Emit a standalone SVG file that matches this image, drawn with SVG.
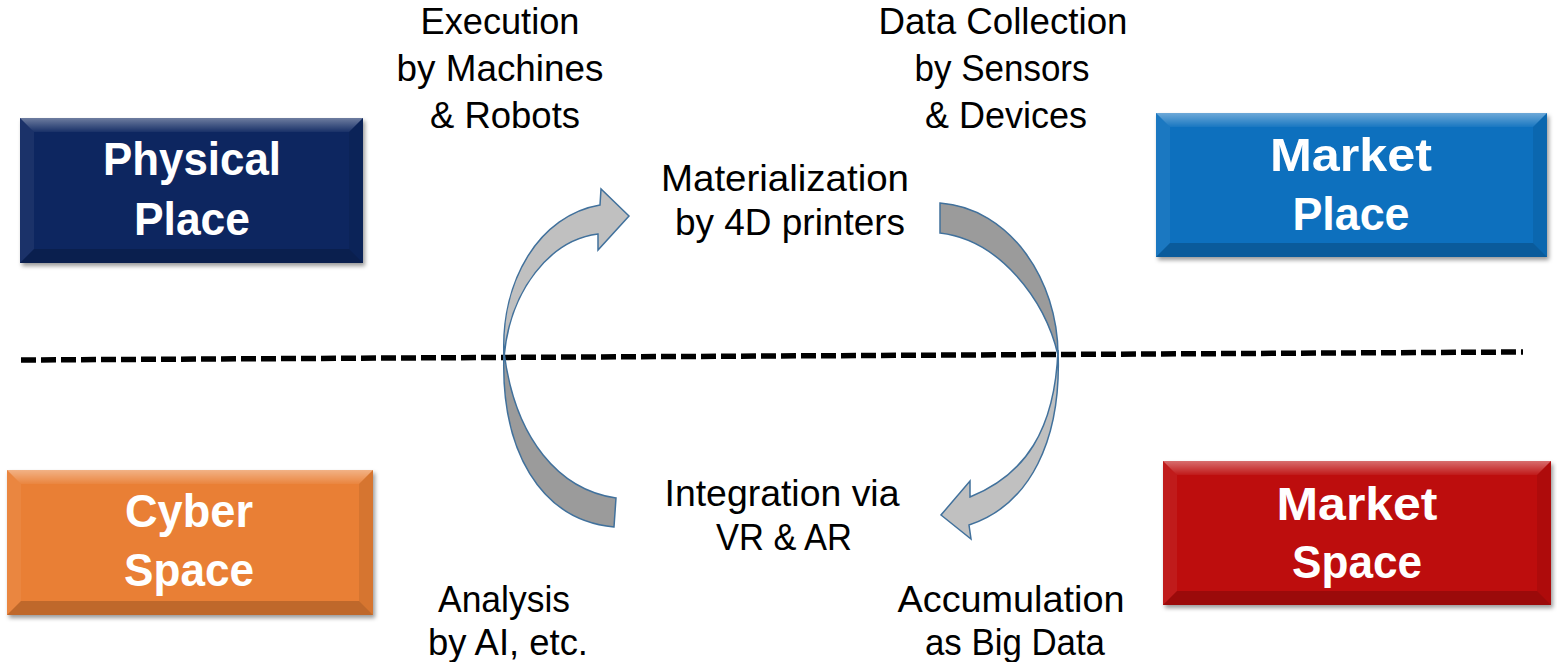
<svg xmlns="http://www.w3.org/2000/svg" width="1557" height="662" viewBox="0 0 1557 662">
<defs>
<filter id="sh" x="-10%" y="-10%" width="120%" height="130%">
<feDropShadow dx="2" dy="3" stdDeviation="2" flood-color="#000" flood-opacity="0.4"/>
</filter>
<linearGradient id="gTop" x1="0" y1="0" x2="0" y2="1">
<stop offset="0" stop-color="#fff" stop-opacity="0.4"/>
<stop offset="1" stop-color="#fff" stop-opacity="0.05"/>
</linearGradient>
</defs>
<style>
.lbl{font-family:"Liberation Sans",Arial,sans-serif;font-size:37px;fill:#000;text-anchor:middle}
.box{font-family:"Liberation Sans",Arial,sans-serif;font-size:46px;font-weight:bold;fill:#fff;text-anchor:middle}
.bt{fill:url(#gTop)}
.bl{fill:#fff;fill-opacity:0.06}
.br{fill:#000;fill-opacity:0.08}
.bb{fill:#000;fill-opacity:0.18}
.arr{stroke:#41719c;stroke-width:1.5;stroke-linejoin:miter}
.light{fill:#c0c0c0}
.dark{fill:#9b9b9b}
</style>
<rect width="1557" height="662" fill="#fff"/>

<g id="physical-place">
<rect x="20" y="118" width="343" height="145" fill="#0b2561" filter="url(#sh)"/>
<polygon class="bt" points="20,118 363,118 349,132 34,132"/>
<polygon class="bl" points="20,118 34,132 34,249 20,263"/>
<polygon class="br" points="363,118 363,263 349,249 349,132"/>
<polygon class="bb" points="20,263 34,249 349,249 363,263"/>
<text class="box" x="192" y="175" textLength="178" lengthAdjust="spacingAndGlyphs">Physical</text>
<text class="box" x="192" y="235" textLength="116" lengthAdjust="spacingAndGlyphs">Place</text>
</g>

<g id="market-place">
<rect x="1156" y="113" width="391" height="144" fill="#0b6fbe" filter="url(#sh)"/>
<polygon class="bt" points="1156,113 1547,113 1533,127 1170,127"/>
<polygon class="bl" points="1156,113 1170,127 1170,243 1156,257"/>
<polygon class="br" points="1547,113 1547,257 1533,243 1533,127"/>
<polygon class="bb" points="1156,257 1170,243 1533,243 1547,257"/>
<text class="box" x="1351" y="171" textLength="162" lengthAdjust="spacingAndGlyphs">Market</text>
<text class="box" x="1351" y="230" textLength="117" lengthAdjust="spacingAndGlyphs">Place</text>
</g>

<g id="cyber-space">
<rect x="7" y="470" width="366" height="145" fill="#e97f36" filter="url(#sh)"/>
<polygon class="bt" points="7,470 373,470 359,484 21,484"/>
<polygon class="bl" points="7,470 21,484 21,601 7,615"/>
<polygon class="br" points="373,470 373,615 359,601 359,484"/>
<polygon class="bb" points="7,615 21,601 359,601 373,615"/>
<text class="box" x="189" y="527" textLength="128" lengthAdjust="spacingAndGlyphs">Cyber</text>
<text class="box" x="189" y="586" textLength="130" lengthAdjust="spacingAndGlyphs">Space</text>
</g>

<g id="market-space">
<rect x="1163" y="461" width="388" height="144" fill="#bd0909" filter="url(#sh)"/>
<polygon class="bt" points="1163,461 1551,461 1537,475 1177,475"/>
<polygon class="bl" points="1163,461 1177,475 1177,591 1163,605"/>
<polygon class="br" points="1551,461 1551,605 1537,591 1537,475"/>
<polygon class="bb" points="1163,605 1177,591 1537,591 1551,605"/>
<text class="box" x="1357" y="520" textLength="161" lengthAdjust="spacingAndGlyphs">Market</text>
<text class="box" x="1357" y="578" textLength="130" lengthAdjust="spacingAndGlyphs">Space</text>
</g>

<g id="divider">
<line x1="21" y1="360" x2="1523" y2="352" stroke="#000" stroke-width="5.5" stroke-dasharray="15 5"/>
</g>

<g id="connectors">
<path class="arr light" d="M 504 357 C 500 280 540 215 600 205 L 601 189 L 629 216 L 598 250 L 598 234 C 550 240 510 290 504 357 Z"/>
<path class="arr dark" d="M 940 203 C 1010 208 1058 280 1058 355 C 1045 300 1000 240 940 233 Z"/>
<path class="arr light" d="M 1058 350 C 1062 440 1030 505 969 525 L 971 539 L 941 515 L 970 481 L 970 497 C 1025 475 1055 430 1058 350 Z"/>
<path class="arr dark" d="M 504 352 C 500 450 540 520 614 527 L 616 498 C 560 490 515 440 504 352 Z"/>
</g>

<g id="labels">
<text class="lbl" x="500" y="34" textLength="159" lengthAdjust="spacingAndGlyphs">Execution</text>
<text class="lbl" x="500" y="81" textLength="207" lengthAdjust="spacingAndGlyphs">by Machines</text>
<text class="lbl" x="505" y="128" textLength="150" lengthAdjust="spacingAndGlyphs">&amp; Robots</text>
<text class="lbl" x="1003" y="34" textLength="249" lengthAdjust="spacingAndGlyphs">Data Collection</text>
<text class="lbl" x="1002" y="81" textLength="175" lengthAdjust="spacingAndGlyphs">by Sensors</text>
<text class="lbl" x="1006" y="128" textLength="162" lengthAdjust="spacingAndGlyphs">&amp; Devices</text>
<text class="lbl" x="785" y="191" textLength="248" lengthAdjust="spacingAndGlyphs">Materialization</text>
<text class="lbl" x="790" y="235" textLength="230" lengthAdjust="spacingAndGlyphs">by 4D printers</text>
<text class="lbl" x="782" y="506" textLength="235" lengthAdjust="spacingAndGlyphs">Integration via</text>
<text class="lbl" x="784" y="550" textLength="136" lengthAdjust="spacingAndGlyphs">VR &amp; AR</text>
<text class="lbl" x="504" y="612" textLength="132" lengthAdjust="spacingAndGlyphs">Analysis</text>
<text class="lbl" x="508" y="655" textLength="160" lengthAdjust="spacingAndGlyphs">by AI, etc.</text>
<text class="lbl" x="1011" y="612" textLength="227" lengthAdjust="spacingAndGlyphs">Accumulation</text>
<text class="lbl" x="1015" y="655" textLength="180" lengthAdjust="spacingAndGlyphs">as Big Data</text>
</g>
</svg>
